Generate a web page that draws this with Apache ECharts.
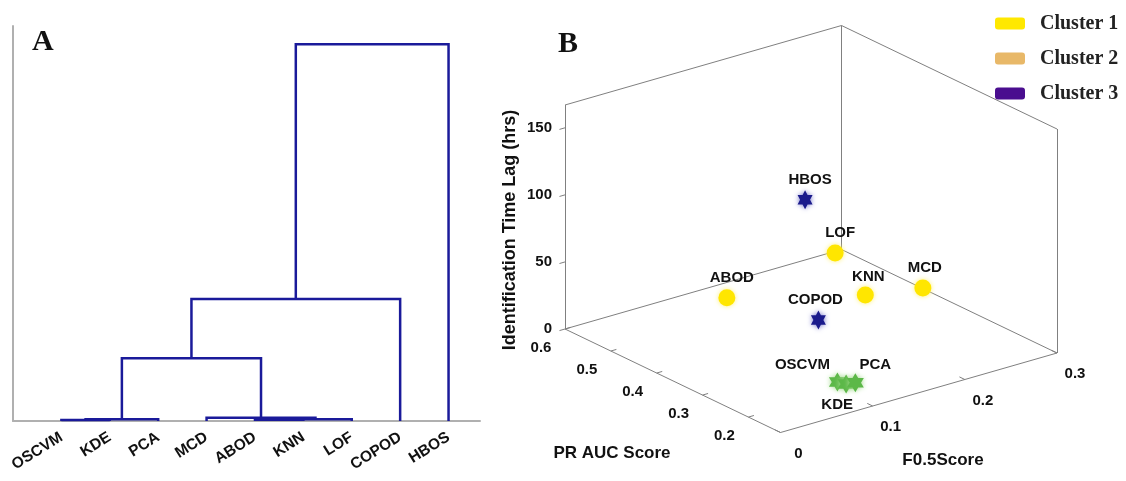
<!DOCTYPE html>
<html><head><meta charset="utf-8">
<script src="https://cdn.jsdelivr.net/npm/echarts@6/dist/echarts.min.js"></script>
<style>html,body{margin:0;padding:0;background:#fff}#c{width:1126px;height:481px}</style>
</head><body><div id="c"></div>
<script>
// ---------- Panel A: dendrogram data ----------
const leafNames = ['OSCVM','KDE','PCA','MCD','ABOD','KNN','LOF','COPOD','HBOS'];
// merges create clusters numbered 9, 10, ...
const mergeLeft   = [0, 9, 4, 11, 3, 10, 14, 15];
const mergeRight  = [1, 2, 5, 6, 12, 13, 7, 8];
const mergeHeight = [0.25, 0.45, 0.3, 0.45, 0.85, 15.9, 30.9, 95.4];

// ---------- Panel B: 3D scatter data ----------
const methods = ['ABOD','LOF','KNN','MCD','COPOD','HBOS','OSCVM','KDE','PCA'];
const f05     = [0.097, 0.215, 0.195, 0.244, 0.162, 0.156, 0.110, 0.113, 0.121];
const prAuc   = [0.442, 0.443, 0.337, 0.310, 0.373, 0.390, 0.227, 0.214, 0.210];
const timeLag = [30, 40, 30, 30, 12, 100, 0, 0, 0];
const clusterOf = [1, 1, 1, 1, 3, 3, 2, 2, 2];
const clusterNames = ['Cluster 1', 'Cluster 2', 'Cluster 3'];

const zTicks  = [0, 50, 100, 150];
const prTicks = [0.2, 0.3, 0.4, 0.5, 0.6];
const fTicks  = [0, 0.1, 0.2, 0.3];
const fRange  = [0, 0.3];
const prRange = [0.13, 0.6];
const lagRange = [0, 167];

// ---------- layout / style ----------
const SANS = 'Liberation Sans, Arial, sans-serif';
const SERIF = 'Liberation Serif, Times New Roman, serif';
const O  = [565, 329];        // screen origin of (fMin, prMax, lagMin)
const VF = [276.5, -79.5];    // full F0.5 range
const VP = [215.5, 103.5];    // full PR AUC range (max -> min)
const VZ = [0, -224];         // full lag range

function proj(f, p, z) {
  const a = (f - fRange[0]) / (fRange[1] - fRange[0]);
  const b = (prRange[1] - p) / (prRange[1] - prRange[0]);
  const c = (z - lagRange[0]) / (lagRange[1] - lagRange[0]);
  return [O[0] + a * VF[0] + b * VP[0] + c * VZ[0], O[1] + a * VF[1] + b * VP[1] + c * VZ[1]];
}

// dendrogram links
const nodeX = leafNames.map((_, i) => i);
const nodeH = leafNames.map(() => 0);
const links = [];
mergeLeft.forEach((l, k) => {
  const r = mergeRight[k], h = mergeHeight[k];
  links.push({ coords: [[nodeX[l], nodeH[l]], [nodeX[l], h], [nodeX[r], h], [nodeX[r], nodeH[r]]] });
  nodeX.push((nodeX[l] + nodeX[r]) / 2);
  nodeH.push(h);
});

// 3D frame
const [f0, f1] = fRange, [p0, p1] = prRange, [z0, z1] = lagRange;
const edges = [
  [[f0,p1,z0],[f0,p1,z1]], [[f0,p1,z1],[f1,p1,z1]], [[f1,p1,z0],[f1,p1,z1]],
  [[f1,p1,z1],[f1,p0,z1]], [[f1,p0,z0],[f1,p0,z1]],
  [[f0,p1,z0],[f1,p1,z0]], [[f1,p1,z0],[f1,p0,z0]],
  [[f0,p1,z0],[f0,p0,z0]], [[f0,p0,z0],[f1,p0,z0]]
];
const segs = edges.map(e => ({ coords: [proj(...e[0]), proj(...e[1])] }));
const dF = 0.02 * (f1 - f0), dP = 0.025 * (p1 - p0);
zTicks.forEach(z => segs.push({ coords: [proj(f0, p1, z), proj(f0 - dF, p1, z)] }));
prTicks.forEach(p => segs.push({ coords: [proj(f0, p, z0), proj(f0 + dF, p, z0)] }));
fTicks.forEach(f => segs.push({ coords: [proj(f, p0, z0), proj(f, p0 + dP, z0)] }));

// texts in panel B
const texts = [];
zTicks.forEach(z => { const q = proj(f0, p1, z); texts.push({ x: q[0] - 13, y: q[1], text: String(z), align: 'right', size: 15 }); });
prTicks.forEach(p => { const q = proj(f0, p, z0); texts.push({ x: q[0] - 24, y: q[1] + 19, text: p.toFixed(1), align: 'center', size: 15 }); });
fTicks.forEach(f => { const q = proj(f, p0, z0); texts.push({ x: q[0] + 18, y: q[1] + 21, text: f === 0 ? '0' : f.toFixed(1), align: 'center', size: 15 }); });
texts.push({ x: 612, y: 453, text: 'PR AUC Score', align: 'center', size: 17 });
texts.push({ x: 943, y: 460, text: 'F0.5Score', align: 'center', size: 17 });
texts.push({ x: 510, y: 230, text: 'Identification Time Lag (hrs)', align: 'center', size: 18, rot: Math.PI / 2 });

const labelOffset = {
  ABOD: [5, -20], LOF: [5, -20], KNN: [3, -18], MCD: [2, -20], COPOD: [-3, -20],
  HBOS: [5, -20], OSCVM: [-35, -17], KDE: [-9, 21], PCA: [20, -18]
};
const hexagram = 'path://M0,-10 L8.66,5 L-8.66,5 Z M0,10 L-8.66,-5 L8.66,-5 Z';
const clusterStyle = {
  1: { symbol: 'circle', symbolSize: 17, color: '#ffe600', shadow: '#fff07a' },
  2: { symbol: hexagram, symbolSize: [17, 19], color: '#5cb848', shadow: '#a6dc90' },
  3: { symbol: hexagram, symbolSize: [15, 19], color: '#1b1b8c', shadow: '#7777cc' }
};
function pointsOf(k) {
  const out = [];
  methods.forEach((m, i) => {
    if (clusterOf[i] !== k) return;
    out.push({ name: m, value: proj(f05[i], prAuc[i], timeLag[i]), label: { offset: labelOffset[m] } });
  });
  return out;
}
const scatterSeries = [1, 2, 3].map(k => ({
  type: 'scatter', name: clusterNames[k - 1], xAxisIndex: 1, yAxisIndex: 1,
  symbol: clusterStyle[k].symbol, symbolSize: clusterStyle[k].symbolSize,
  itemStyle: { color: clusterStyle[k].color, opacity: 1, shadowBlur: 5, shadowColor: clusterStyle[k].shadow },
  label: { show: true, position: 'inside', formatter: '{b}', color: '#111', fontFamily: SANS, fontWeight: 'bold', fontSize: 15 },
  data: pointsOf(k), z: 5
}));

const chart = echarts.init(document.getElementById('c'), null, { renderer: 'canvas' });
chart.setOption({
  animation: false,
  backgroundColor: '#fff',
  grid: [
    { left: 13, top: 26, width: 467, height: 395 },
    { left: 0, top: 0, width: 1126, height: 481 }
  ],
  xAxis: [
    { type: 'value', gridIndex: 0, min: -1, max: 8.65, interval: 1,
      axisLine: { show: true, onZero: false, lineStyle: { color: '#b0b0b0', width: 2 } },
      axisTick: { show: false }, splitLine: { show: false },
      axisLabel: { formatter: v => leafNames[v] || '', rotate: 32, margin: 15, color: '#111',
        fontFamily: SANS, fontWeight: 'bold', fontSize: 15.5 } },
    { type: 'value', gridIndex: 1, min: 0, max: 1126, show: false }
  ],
  yAxis: [
    { type: 'value', gridIndex: 0, min: 0, max: 100,
      axisLine: { show: true, onZero: false, lineStyle: { color: '#b0b0b0', width: 2 } },
      axisTick: { show: false }, axisLabel: { show: false }, splitLine: { show: false } },
    { type: 'value', gridIndex: 1, min: 0, max: 481, inverse: true, show: false }
  ],
  legend: {
    orient: 'vertical', left: 990, top: 8, itemWidth: 30, itemHeight: 12, itemGap: 14,
    icon: 'roundRect', selectedMode: false,
    textStyle: { fontFamily: SERIF, fontWeight: 'bold', fontSize: 20, color: '#222', lineHeight: 21, padding: [0, 0, 0, 10] },
    data: [
      { name: 'Cluster 1', itemStyle: { color: '#ffe800' } },
      { name: 'Cluster 2', itemStyle: { color: '#e8b868' } },
      { name: 'Cluster 3', itemStyle: { color: '#4a0e8f' } }
    ]
  },
  graphic: [
    { type: 'text', left: 32, top: 27, style: { text: 'A', font: 'bold 30px ' + SERIF, fill: '#111' } },
    { type: 'text', left: 558, top: 29, style: { text: 'B', font: 'bold 30px ' + SERIF, fill: '#111' } }
  ],
  series: [
    { type: 'lines', coordinateSystem: 'cartesian2d', xAxisIndex: 0, yAxisIndex: 0, polyline: true,
      lineStyle: { color: '#1a1a9a', width: 2.5, opacity: 1 }, data: links, silent: true },
    { type: 'lines', coordinateSystem: 'cartesian2d', xAxisIndex: 1, yAxisIndex: 1,
      lineStyle: { color: '#808080', width: 1, opacity: 1 }, data: segs, silent: true },
    { type: 'custom', coordinateSystem: 'cartesian2d', xAxisIndex: 1, yAxisIndex: 1, silent: true, clip: false,
      data: texts.map(t => [t.x, t.y]),
      renderItem: (params, api) => {
        const t = texts[params.dataIndex];
        const pt = api.coord([t.x, t.y]);
        return { type: 'text', x: pt[0], y: pt[1], rotation: t.rot || 0,
          style: { text: t.text, fontFamily: SANS, fontWeight: 'bold', fontSize: t.size,
            align: t.align, verticalAlign: 'middle', fill: '#111' } };
      } },
    ...scatterSeries
  ]
});
</script>
</body></html>
